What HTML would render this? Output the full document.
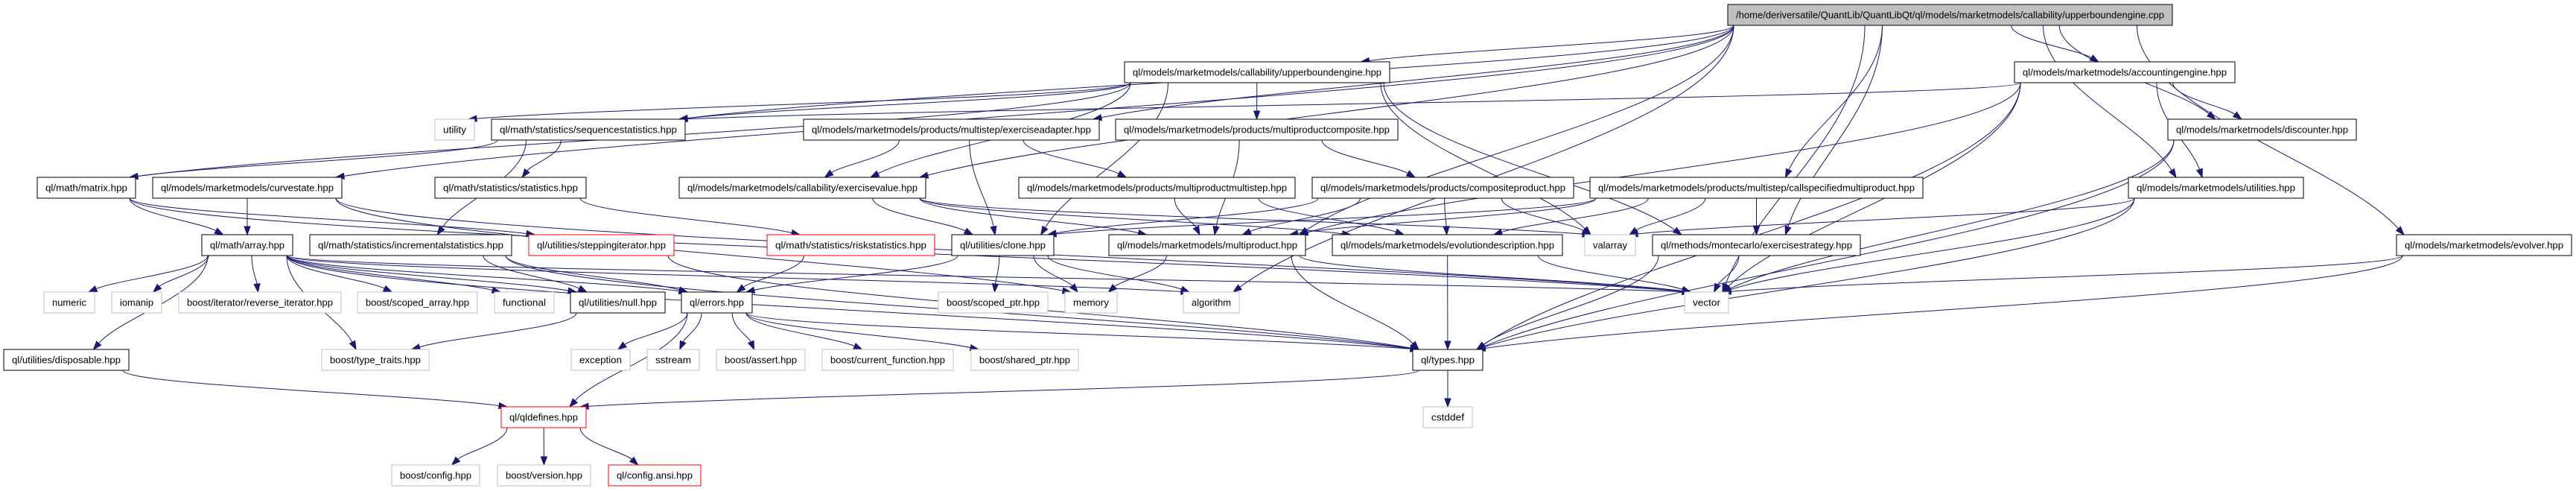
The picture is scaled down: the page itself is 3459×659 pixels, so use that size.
<!DOCTYPE html>
<html><head><meta charset="utf-8">
<style>
html,body{margin:0;padding:0;background:#fff;}
svg{display:block;}
text{font-family:"Liberation Sans",Arial,sans-serif;font-size:13px;fill:#000;}
</style></head>
<body>
<svg id="g" width="3459" height="659" xmlns="http://www.w3.org/2000/svg">
<g id="edges" fill="none" stroke="#191970" stroke-width="1"></g>
<g id="heads" fill="#191970" stroke="#191970"></g>
<g id="nodes">
<rect x="2320" y="6" width="597" height="28" fill="#bfbfbf" stroke="#000"/><text x="2331" y="24.5" textLength="575" lengthAdjust="spacingAndGlyphs">/home/deriversatile/QuantLib/QuantLibQt/ql/models/marketmodels/callability/upperboundengine.cpp</text>
<rect x="1510" y="83" width="356" height="28" fill="#fff" stroke="#000"/><text x="1521" y="101.5" textLength="334" lengthAdjust="spacingAndGlyphs">ql/models/marketmodels/callability/upperboundengine.hpp</text>
<rect x="2705" y="83" width="296" height="28" fill="#fff" stroke="#000"/><text x="2716" y="101.5" textLength="274" lengthAdjust="spacingAndGlyphs">ql/models/marketmodels/accountingengine.hpp</text>
<rect x="584" y="160" width="53" height="28" fill="#fff" stroke="#bfbfbf"/><text x="595" y="178.5" textLength="31" lengthAdjust="spacingAndGlyphs">utility</text>
<rect x="660" y="160" width="260" height="28" fill="#fff" stroke="#000"/><text x="671" y="178.5" textLength="238" lengthAdjust="spacingAndGlyphs">ql/math/statistics/sequencestatistics.hpp</text>
<rect x="1079" y="160" width="397" height="28" fill="#fff" stroke="#000"/><text x="1090" y="178.5" textLength="375" lengthAdjust="spacingAndGlyphs">ql/models/marketmodels/products/multistep/exerciseadapter.hpp</text>
<rect x="1498" y="160" width="379" height="28" fill="#fff" stroke="#000"/><text x="1509" y="178.5" textLength="357" lengthAdjust="spacingAndGlyphs">ql/models/marketmodels/products/multiproductcomposite.hpp</text>
<rect x="2911" y="160" width="253" height="28" fill="#fff" stroke="#000"/><text x="2922" y="178.5" textLength="231" lengthAdjust="spacingAndGlyphs">ql/models/marketmodels/discounter.hpp</text>
<rect x="50" y="238" width="132" height="28" fill="#fff" stroke="#000"/><text x="61" y="256.5" textLength="110" lengthAdjust="spacingAndGlyphs">ql/math/matrix.hpp</text>
<rect x="205" y="238" width="254" height="28" fill="#fff" stroke="#000"/><text x="216" y="256.5" textLength="232" lengthAdjust="spacingAndGlyphs">ql/models/marketmodels/curvestate.hpp</text>
<rect x="584" y="238" width="203" height="28" fill="#fff" stroke="#000"/><text x="595" y="256.5" textLength="181" lengthAdjust="spacingAndGlyphs">ql/math/statistics/statistics.hpp</text>
<rect x="912" y="238" width="331" height="28" fill="#fff" stroke="#000"/><text x="923" y="256.5" textLength="309" lengthAdjust="spacingAndGlyphs">ql/models/marketmodels/callability/exercisevalue.hpp</text>
<rect x="1368" y="238" width="371" height="28" fill="#fff" stroke="#000"/><text x="1379" y="256.5" textLength="349" lengthAdjust="spacingAndGlyphs">ql/models/marketmodels/products/multiproductmultistep.hpp</text>
<rect x="1762" y="238" width="351" height="28" fill="#fff" stroke="#000"/><text x="1773" y="256.5" textLength="329" lengthAdjust="spacingAndGlyphs">ql/models/marketmodels/products/compositeproduct.hpp</text>
<rect x="2135" y="238" width="447" height="28" fill="#fff" stroke="#000"/><text x="2146" y="256.5" textLength="425" lengthAdjust="spacingAndGlyphs">ql/models/marketmodels/products/multistep/callspecifiedmultiproduct.hpp</text>
<rect x="2858" y="238" width="235" height="28" fill="#fff" stroke="#000"/><text x="2869" y="256.5" textLength="213" lengthAdjust="spacingAndGlyphs">ql/models/marketmodels/utilities.hpp</text>
<rect x="271" y="315" width="122" height="28" fill="#fff" stroke="#000"/><text x="282" y="333.5" textLength="100" lengthAdjust="spacingAndGlyphs">ql/math/array.hpp</text>
<rect x="416" y="315" width="271" height="28" fill="#fff" stroke="#000"/><text x="427" y="333.5" textLength="249" lengthAdjust="spacingAndGlyphs">ql/math/statistics/incrementalstatistics.hpp</text>
<rect x="710" y="315" width="195" height="28" fill="#fff" stroke="#f00"/><text x="721" y="333.5" textLength="173" lengthAdjust="spacingAndGlyphs">ql/utilities/steppingiterator.hpp</text>
<rect x="1030" y="315" width="225" height="28" fill="#fff" stroke="#f00"/><text x="1041" y="333.5" textLength="203" lengthAdjust="spacingAndGlyphs">ql/math/statistics/riskstatistics.hpp</text>
<rect x="1278" y="315" width="137" height="28" fill="#fff" stroke="#000"/><text x="1289" y="333.5" textLength="115" lengthAdjust="spacingAndGlyphs">ql/utilities/clone.hpp</text>
<rect x="1489" y="315" width="264" height="28" fill="#fff" stroke="#000"/><text x="1500" y="333.5" textLength="242" lengthAdjust="spacingAndGlyphs">ql/models/marketmodels/multiproduct.hpp</text>
<rect x="1789" y="315" width="309" height="28" fill="#fff" stroke="#000"/><text x="1800" y="333.5" textLength="287" lengthAdjust="spacingAndGlyphs">ql/models/marketmodels/evolutiondescription.hpp</text>
<rect x="2128" y="315" width="68" height="28" fill="#fff" stroke="#bfbfbf"/><text x="2139" y="333.5" textLength="46" lengthAdjust="spacingAndGlyphs">valarray</text>
<rect x="2219" y="315" width="279" height="28" fill="#fff" stroke="#000"/><text x="2230" y="333.5" textLength="257" lengthAdjust="spacingAndGlyphs">ql/methods/montecarlo/exercisestrategy.hpp</text>
<rect x="3218" y="315" width="235" height="28" fill="#fff" stroke="#000"/><text x="3229" y="333.5" textLength="213" lengthAdjust="spacingAndGlyphs">ql/models/marketmodels/evolver.hpp</text>
<rect x="59" y="392" width="68" height="28" fill="#fff" stroke="#bfbfbf"/><text x="70" y="410.5" textLength="46" lengthAdjust="spacingAndGlyphs">numeric</text>
<rect x="150" y="392" width="67" height="28" fill="#fff" stroke="#bfbfbf"/><text x="161" y="410.5" textLength="45" lengthAdjust="spacingAndGlyphs">iomanip</text>
<rect x="240" y="392" width="218" height="28" fill="#fff" stroke="#bfbfbf"/><text x="251" y="410.5" textLength="196" lengthAdjust="spacingAndGlyphs">boost/iterator/reverse_iterator.hpp</text>
<rect x="480" y="392" width="161" height="28" fill="#fff" stroke="#bfbfbf"/><text x="491" y="410.5" textLength="139" lengthAdjust="spacingAndGlyphs">boost/scoped_array.hpp</text>
<rect x="664" y="392" width="80" height="28" fill="#fff" stroke="#bfbfbf"/><text x="675" y="410.5" textLength="58" lengthAdjust="spacingAndGlyphs">functional</text>
<rect x="766" y="392" width="127" height="28" fill="#fff" stroke="#000"/><text x="777" y="410.5" textLength="105" lengthAdjust="spacingAndGlyphs">ql/utilities/null.hpp</text>
<rect x="915" y="392" width="95" height="28" fill="#fff" stroke="#000"/><text x="926" y="410.5" textLength="73" lengthAdjust="spacingAndGlyphs">ql/errors.hpp</text>
<rect x="1260" y="392" width="147" height="28" fill="#fff" stroke="#bfbfbf"/><text x="1271" y="410.5" textLength="125" lengthAdjust="spacingAndGlyphs">boost/scoped_ptr.hpp</text>
<rect x="1430" y="392" width="70" height="28" fill="#fff" stroke="#bfbfbf"/><text x="1441" y="410.5" textLength="48" lengthAdjust="spacingAndGlyphs">memory</text>
<rect x="1589" y="392" width="75" height="28" fill="#fff" stroke="#bfbfbf"/><text x="1600" y="410.5" textLength="53" lengthAdjust="spacingAndGlyphs">algorithm</text>
<rect x="2262" y="392" width="59" height="28" fill="#fff" stroke="#bfbfbf"/><text x="2273" y="410.5" textLength="37" lengthAdjust="spacingAndGlyphs">vector</text>
<rect x="5" y="469" width="168" height="28" fill="#fff" stroke="#000"/><text x="16" y="487.5" textLength="146" lengthAdjust="spacingAndGlyphs">ql/utilities/disposable.hpp</text>
<rect x="432" y="469" width="144" height="28" fill="#fff" stroke="#bfbfbf"/><text x="443" y="487.5" textLength="122" lengthAdjust="spacingAndGlyphs">boost/type_traits.hpp</text>
<rect x="767" y="469" width="79" height="28" fill="#fff" stroke="#bfbfbf"/><text x="778" y="487.5" textLength="57" lengthAdjust="spacingAndGlyphs">exception</text>
<rect x="869" y="469" width="70" height="28" fill="#fff" stroke="#bfbfbf"/><text x="880" y="487.5" textLength="48" lengthAdjust="spacingAndGlyphs">sstream</text>
<rect x="962" y="469" width="119" height="28" fill="#fff" stroke="#bfbfbf"/><text x="973" y="487.5" textLength="97" lengthAdjust="spacingAndGlyphs">boost/assert.hpp</text>
<rect x="1104" y="469" width="176" height="28" fill="#fff" stroke="#bfbfbf"/><text x="1115" y="487.5" textLength="154" lengthAdjust="spacingAndGlyphs">boost/current_function.hpp</text>
<rect x="1304" y="469" width="144" height="28" fill="#fff" stroke="#bfbfbf"/><text x="1315" y="487.5" textLength="122" lengthAdjust="spacingAndGlyphs">boost/shared_ptr.hpp</text>
<rect x="1897" y="469" width="94" height="28" fill="#fff" stroke="#000"/><text x="1908" y="487.5" textLength="72" lengthAdjust="spacingAndGlyphs">ql/types.hpp</text>
<rect x="673" y="546" width="114" height="28" fill="#fff" stroke="#f00"/><text x="684" y="564.5" textLength="92" lengthAdjust="spacingAndGlyphs">ql/qldefines.hpp</text>
<rect x="1911" y="546" width="66" height="28" fill="#fff" stroke="#bfbfbf"/><text x="1922" y="564.5" textLength="44" lengthAdjust="spacingAndGlyphs">cstddef</text>
<rect x="526" y="624" width="118" height="28" fill="#fff" stroke="#bfbfbf"/><text x="537" y="642.5" textLength="96" lengthAdjust="spacingAndGlyphs">boost/config.hpp</text>
<rect x="668" y="624" width="125" height="28" fill="#fff" stroke="#bfbfbf"/><text x="679" y="642.5" textLength="103" lengthAdjust="spacingAndGlyphs">boost/version.hpp</text>
<rect x="817" y="624" width="124" height="28" fill="#fff" stroke="#f00"/><text x="828" y="642.5" textLength="102" lengthAdjust="spacingAndGlyphs">ql/config.ansi.hpp</text>
</g>
</svg>
<script>
var T=[6,83,160,238,315,392,469,546,624],H=28;
var N={
main:[2320,2917,0],ube:[1510,1866,1],acc:[2705,3001,1],
utility:[584,637,2],seq:[660,920,2],exa:[1079,1476,2],mpc:[1498,1877,2],disc:[2911,3164,2],
matrix:[50,182,3],curve:[205,459,3],stats:[584,787,3],exv:[912,1243,3],mpm:[1368,1739,3],comp:[1762,2113,3],csm:[2135,2582,3],util:[2858,3093,3],
array:[271,393,4],inc:[416,687,4],step:[710,905,4],risk:[1030,1255,4],clone:[1278,1415,4],mp:[1489,1753,4],evd:[1789,2098,4],valarray:[2128,2196,4],exs:[2219,2498,4],evolver:[3218,3453,4],
numeric:[59,127,5],iomanip:[150,217,5],rev:[240,458,5],sarr:[480,641,5],functional:[664,744,5],nul:[766,893,5],errors:[915,1010,5],sptr:[1260,1407,5],memory:[1430,1500,5],algorithm:[1589,1664,5],vector:[2262,2321,5],
disp:[5,173,6],tt:[432,576,6],exception:[767,846,6],sstream:[869,939,6],assert:[962,1081,6],cf:[1104,1280,6],shp:[1304,1448,6],types:[1897,1991,6],
qld:[673,787,7],cstddef:[1911,1977,7],bcfg:[526,644,8],bver:[668,793,8],cansi:[817,941,8]};
var E=[["main","ube"],["main","acc"],["main","disc"],["main","util"],["main","evolver"],["main","csm"],["main","exv"],["main","exa"],["main","curve"],["main","seq"],["main","mp"],["main","exs"],["main","algorithm"],["main","vector"],
["ube","utility"],["ube","seq"],["ube","mpc"],["ube","exv"],["ube","exs"],["ube","valarray"],["ube","clone"],["ube","matrix"],
["acc","seq"],["acc","disc"],["acc","vector"],["acc","types"],["acc","mp"],["acc","util"],
["seq","stats"],["seq","matrix"],["seq","inc"],["stats","risk"],
["exa","exv"],["exa","mpm"],["exa","clone"],["mpc","comp"],["mpc","mp"],
["comp","mp"],["comp","evd"],["comp","valarray"],["comp","clone"],
["mpm","mp"],["mpm","evd"],
["csm","exs"],["csm","mp"],["csm","evd"],["csm","valarray"],["csm","clone"],
["exv","mp"],["exv","evd"],["exv","valarray"],["exv","clone"],
["curve","array"],["curve","vector"],["curve","memory"],["matrix","array"],["matrix","step"],["matrix","vector"],
["array","numeric"],["array","iomanip"],["array","rev"],["array","sarr"],["array","functional"],["array","nul"],["array","errors"],["array","types"],["array","disp"],["array","tt"],["array","vector"],["array","algorithm"],
["inc","nul"],["inc","errors"],["inc","types"],["step","types"],["risk","errors"],
["clone","errors"],["clone","sptr"],["clone","memory"],["clone","algorithm"],
["mp","memory"],["mp","types"],["mp","vector"],["evd","types"],["evd","vector"],
["exs","vector"],["exs","types"],["util","vector"],["util","types"],["util","valarray"],
["disc","vector"],["disc","types"],["evolver","vector"],["evolver","types"],
["errors","exception"],["errors","sstream"],["errors","assert"],["errors","cf"],["errors","shp"],["errors","qld"],["errors","types"],
["nul","tt"],["disp","qld"],["types","qld"],["types","cstddef"],
["qld","bcfg"],["qld","bver"],["qld","cansi"]];
var ns="http://www.w3.org/2000/svg",eg=document.getElementById("edges"),hg=document.getElementById("heads");
function cl(v,a,b){return Math.max(a,Math.min(b,v));}
E.forEach(function(e){
 var s=N[e[0]],t=N[e[1]];
 var sc=(s[0]+s[1])/2,tc=(t[0]+t[1])/2;
 var sx=cl(sc+(tc-sc)*0.35,s[0]+8,s[1]-8),sy=T[s[2]]+H;
 var ex=cl(tc+(sc-tc)*0.15,t[0]+8,t[1]-8),ey=T[t[2]];
 var dy=ey-sy;
 var c1x=sx,c1y=sy+dy*0.4,c2x=ex+(sx-ex)*0.25,c2y=ey-dy*0.35;
 var ang=Math.atan2(ey-c2y,ex-c2x),L=11,W=4;
 var bx=ex-L*Math.cos(ang),by=ey-L*Math.sin(ang);
 var p=document.createElementNS(ns,"path");
 p.setAttribute("d","M"+sx+","+sy+" C"+c1x+","+c1y+" "+c2x+","+c2y+" "+bx+","+by);
 eg.appendChild(p);
 var px=-Math.sin(ang)*W,py=Math.cos(ang)*W;
 var h=document.createElementNS(ns,"polygon");
 h.setAttribute("points",ex+","+ey+" "+(bx+px)+","+(by+py)+" "+(bx-px)+","+(by-py));
 hg.appendChild(h);
});
</script>
</body></html>
